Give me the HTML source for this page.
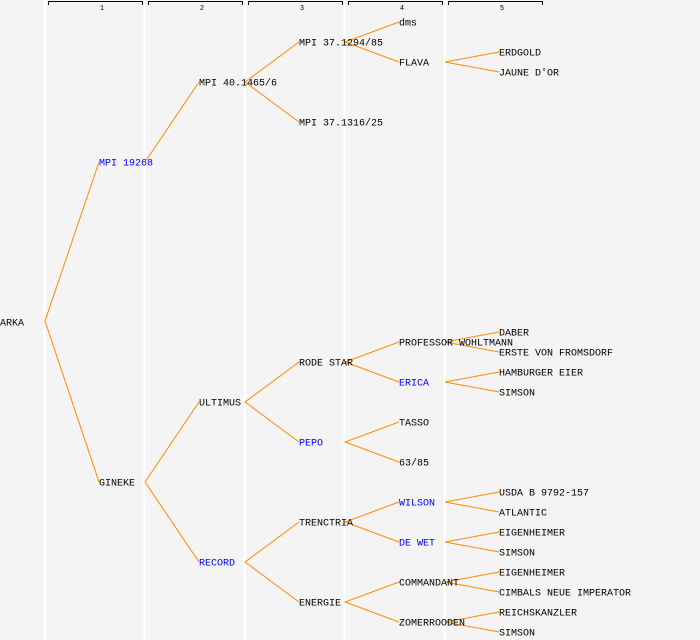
<!DOCTYPE html>
<html><head><style>
html,body{margin:0;padding:0;background:#f4f4f4;}
svg{display:block}
text{font-family:"Liberation Mono","DejaVu Sans Mono",monospace;font-size:10px;}
</style></head><body>
<svg width="700" height="640" viewBox="0 0 700 640" xmlns="http://www.w3.org/2000/svg">
<rect width="700" height="640" fill="#f4f4f4"/>
<g stroke="#ffffff" stroke-width="2">
<line x1="44.5" y1="0" x2="44.5" y2="640"/>
<line x1="144.5" y1="0" x2="144.5" y2="640"/>
<line x1="244.5" y1="0" x2="244.5" y2="640"/>
<line x1="344.5" y1="0" x2="344.5" y2="640"/>
<line x1="444.5" y1="0" x2="444.5" y2="640"/>
</g>
<g stroke="#000" fill="none" stroke-width="1">
<path d="M48.5 5V1.5H142.5V5"/>
<path d="M148.5 5V1.5H242.5V5"/>
<path d="M248.5 5V1.5H342.5V5"/>
<path d="M348.5 5V1.5H442.5V5"/>
<path d="M448.5 5V1.5H542.5V5"/>
</g>
<g text-anchor="middle">
<text x="102" y="10" style="font-size:7px">1</text>
<text x="202" y="10" style="font-size:7px">2</text>
<text x="302" y="10" style="font-size:7px">3</text>
<text x="402" y="10" style="font-size:7px">4</text>
<text x="502" y="10" style="font-size:7px">5</text>
</g>
<g stroke="#ff8c00" stroke-width="1" fill="none">
<path d="M99 162L45 321L99 482"/>
<path d="M199 82L145 162"/>
<path d="M199 402L145 482L199 562"/>
<path d="M299 42L245 82L299 122"/>
<path d="M299 362L245 402L299 442"/>
<path d="M299 522L245 562L299 602"/>
<path d="M399 22L345 42L399 62"/>
<path d="M399 342L345 362L399 382"/>
<path d="M399 422L345 442L399 462"/>
<path d="M399 502L345 522L399 542"/>
<path d="M399 582L345 602L399 622"/>
<path d="M499 52L445 62L499 72"/>
<path d="M499 332L445 342L499 352"/>
<path d="M499 372L445 382L499 392"/>
<path d="M499 492L445 502L499 512"/>
<path d="M499 532L445 542L499 552"/>
<path d="M499 572L445 582L499 592"/>
<path d="M499 612L445 622L499 632"/>
</g>
<g fill="#000" dominant-baseline="central" transform="translate(0,2)">
<text x="0" y="322">ARKA</text>
<text x="99" y="162" fill="#0000ff">MPI 19268</text>
<text x="99" y="482">GINEKE</text>
<text x="199" y="82">MPI 40.1465/6</text>
<text x="199" y="402">ULTIMUS</text>
<text x="199" y="562" fill="#0000ff">RECORD</text>
<text x="299" y="42">MPI 37.1294/85</text>
<text x="299" y="122">MPI 37.1316/25</text>
<text x="299" y="362">RODE STAR</text>
<text x="299" y="442" fill="#0000ff">PEPO</text>
<text x="299" y="522">TRENCTRIA</text>
<text x="299" y="602">ENERGIE</text>
<text x="399" y="22">dms</text>
<text x="399" y="62">FLAVA</text>
<text x="399" y="342">PROFESSOR WOHLTMANN</text>
<text x="399" y="382" fill="#0000ff">ERICA</text>
<text x="399" y="422">TASSO</text>
<text x="399" y="462">63/85</text>
<text x="399" y="502" fill="#0000ff">WILSON</text>
<text x="399" y="542" fill="#0000ff">DE WET</text>
<text x="399" y="582">COMMANDANT</text>
<text x="399" y="622">ZOMERROODEN</text>
<text x="499" y="52">ERDGOLD</text>
<text x="499" y="72">JAUNE D'OR</text>
<text x="499" y="332">DABER</text>
<text x="499" y="352">ERSTE VON FROMSDORF</text>
<text x="499" y="372">HAMBURGER EIER</text>
<text x="499" y="392">SIMSON</text>
<text x="499" y="492">USDA B 9792-157</text>
<text x="499" y="512">ATLANTIC</text>
<text x="499" y="532">EIGENHEIMER</text>
<text x="499" y="552">SIMSON</text>
<text x="499" y="572">EIGENHEIMER</text>
<text x="499" y="592">CIMBALS NEUE IMPERATOR</text>
<text x="499" y="612">REICHSKANZLER</text>
<text x="499" y="632">SIMSON</text>
</g>
</svg>
</body></html>
